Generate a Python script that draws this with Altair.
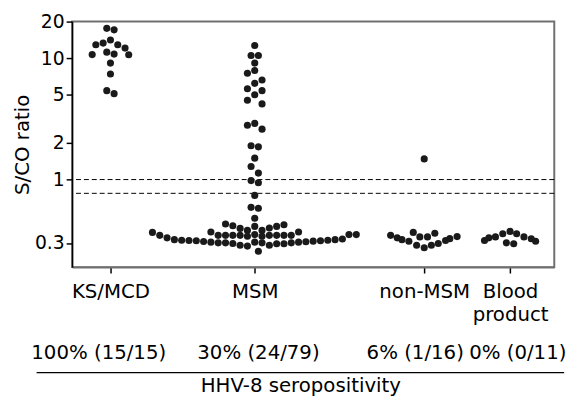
import altair as alt
import pandas as pd

# ---- categories and their positions on the x scale ----
categories = ["KS/MCD", "MSM", "non-MSM", "Blood product"]
cat_pos = [5.25, 25.0, 48.2, 59.95]

# ---- S/CO values, with swarm slot offsets ----
ks_values = [17.6, 17.1, 14.1, 13.3, 12.9, 12.9, 12.1, 11.2, 10.8, 10.7, 10.65,
             9.1, 7.4, 5.4, 5.1]
ks_slot = [-0.5, 0.5, 0, -1, 1, -2, 2, -0.5, 0.5, -2.5, 2.5, 0, 0, -0.5, 0.5]

msm_values = [12.7, 10.5, 10.5, 9.1, 7.9, 7.5, 6.6, 6.2, 5.6, 5.4, 5.0, 4.5, 4.2,
              2.9, 2.8, 2.6, 1.9, 1.86, 1.5, 1.28, 1.13, 0.98, 0.94, 0.74, 0.59,
              0.58, 0.48,
              0.367, 0.347, 0.331, 0.320, 0.316, 0.315, 0.313, 0.309,
              0.370,
              0.430, 0.416, 0.396, 0.381, 0.411, 0.381, 0.399, 0.411, 0.424,
              0.347, 0.347, 0.347, 0.347, 0.341, 0.352, 0.341, 0.347, 0.347,
              0.347, 0.347, 0.370,
              0.305, 0.301, 0.301, 0.297, 0.288, 0.283, 0.305, 0.301, 0.288,
              0.296, 0.296, 0.301, 0.305, 0.307, 0.311, 0.313, 0.316, 0.320,
              0.324,
              0.352, 0.352,
              0.257]
msm_slot = [0, -0.5, 0.5, 0, 0, -1, 1, 0, -1, 1, 0, -1, 1,
            0, -1, 1, -0.5, 0.5, 0, -0.5, 0.5, -0.5, 0.5, 0, -0.5,
            0.5, 0,
            -14, -13, -12, -11, -10, -9, -8, -7,
            -6,
            -4, -3, -2, -1, 0, 1, 2, 3, 4,
            -5, -4, -3, -2, -1, 0, 1, 2, 3,
            4, 5, 6,
            -6, -5, -4, -3, -2, -1, 0, 1, 2,
            3, 4, 5, 6, 7, 8, 9, 10, 11,
            12,
            12.9, 13.9,
            0.5]

nonmsm_values = [1.48, 0.347, 0.331, 0.320, 0.310, 0.367, 0.337, 0.337, 0.361,
                 0.288, 0.274, 0.288, 0.297, 0.315, 0.326, 0.339]
nonmsm_slot = [0, -4.6, -3.7, -3.05, -2.1, -1.5, -0.6, 0.45, 1.45,
               -1.04, 0, 0.98, 1.92, 2.92, 3.5, 4.5]

blood_values = [0.315, 0.331, 0.337, 0.358, 0.374, 0.358, 0.301, 0.296, 0.337,
                0.325, 0.310]
blood_slot = [-3.5, -2.9, -2.0, -1.0, 0, 0.9, -0.5, 0.5, 1.9, 2.9, 3.5]

cutoffs = [1.0, 0.77]
y_ticks = [0.3, 1, 2, 5, 10, 20]

pct_labels = ["100% (15/15)", "30% (24/79)", "6% (1/16)", "0% (0/11)"]
footer_title = "HHV-8 seropositivity"

FONT = "DejaVu Sans"
FS = 19
FS_BIG = 20

rows = []
for cat, pos, vals, slots in [
    (categories[0], cat_pos[0], ks_values, ks_slot),
    (categories[1], cat_pos[1], msm_values, msm_slot),
    (categories[2], cat_pos[2], nonmsm_values, nonmsm_slot),
    (categories[3], cat_pos[3], blood_values, blood_slot),
]:
    for v, s in zip(vals, slots):
        rows.append({"group": cat, "x": pos + s, "value": v})
df = pd.DataFrame(rows)

xscale = alt.Scale(domain=[0, 66], nice=False, zero=False)
yscale = alt.Scale(type="log", domain=[0.19, 20], nice=False)

label_expr = ("datum.value < 10 ? 'KS/MCD' : datum.value < 30 ? 'MSM' : "
              "datum.value < 55 ? 'non-MSM' : ['Blood', 'product']")

points = alt.Chart(df).mark_circle(size=52, color="#1a1a1a", opacity=1).encode(
    x=alt.X("x:Q", scale=xscale,
            axis=alt.Axis(values=cat_pos, labelExpr=label_expr, title=None,
                          grid=False, domainColor="#707070", domainWidth=2,
                          tickColor="black", tickSize=6, tickWidth=1.5,
                          labelPadding=9, labelFontSize=FS_BIG, labelFont=FONT,
                          labelColor="black", labelLineHeight=23)),
    y=alt.Y("value:Q", scale=yscale,
            axis=alt.Axis(values=y_ticks, format="~g", title="S/CO ratio",
                          grid=False, domainColor="black", domainWidth=1.5,
                          tickColor="black", tickSize=6, tickWidth=1.5,
                          labelPadding=2, labelFontSize=FS, labelFont=FONT,
                          labelColor="black", titleFont=FONT, titleFontSize=FS_BIG,
                          titleFontWeight="normal", titleColor="black",
                          titlePadding=2)),
)

rules = alt.Chart(pd.DataFrame({"c": cutoffs})).mark_rule(
    color="black", strokeWidth=1, strokeDash=[5, 3]
).encode(y=alt.Y("c:Q", scale=yscale))

pct_x = [27, 189, 348, 452]
texts = []
for lab, px in zip(pct_labels, pct_x):
    texts.append(
        alt.Chart(pd.DataFrame({"t": [lab]})).mark_text(
            font=FONT, fontSize=FS_BIG, color="black", align="center", baseline="middle"
        ).encode(text="t:N", x=alt.value(px), y=alt.value(336))
    )

line = alt.Chart(pd.DataFrame({"a": [0]})).mark_rule(color="black", strokeWidth=1.5).encode(
    x=alt.value(-36), x2=alt.value(499), y=alt.value(356)
)
footer = alt.Chart(pd.DataFrame({"t": [footer_title]})).mark_text(
    font=FONT, fontSize=FS_BIG, color="black", align="center", baseline="alphabetic"
).encode(text="t:N", x=alt.value(232), y=alt.value(376))

chart = alt.layer(rules, points, *texts, line, footer).properties(
    width=489, height=249,
    padding={"left": 65, "top": 11, "right": 19, "bottom": 133},
    autosize=alt.AutoSizeParams(type="none"),
).configure_view(stroke="#707070", strokeWidth=2)

chart.save("out.html", embed_options={"renderer": "svg", "actions": False})
